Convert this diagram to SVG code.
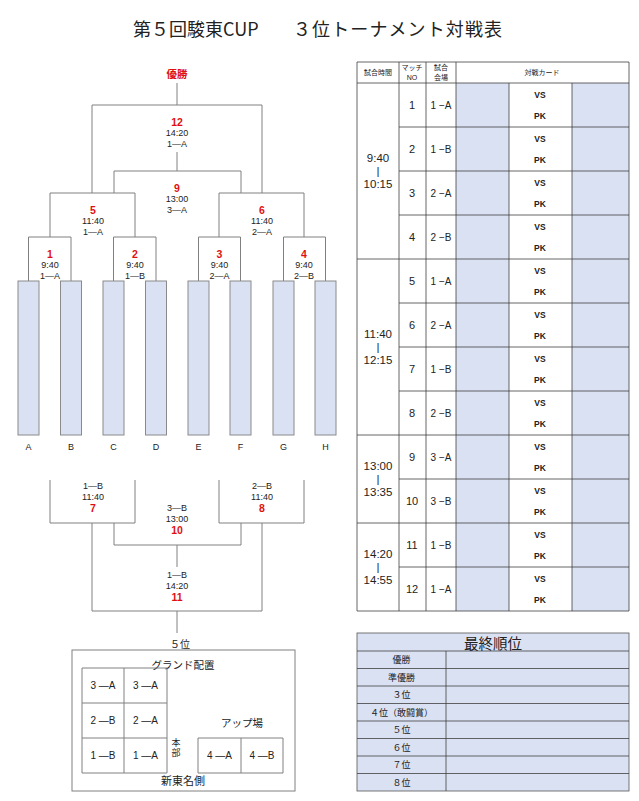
<svg xmlns="http://www.w3.org/2000/svg" width="639" height="801" viewBox="0 0 639 801">
<style>
.t{font-family:"Liberation Sans","Noto Sans CJK JP",sans-serif;font-size:9px;fill:#222;text-anchor:middle;dominant-baseline:central}
.j{font-family:"Noto Sans CJK JP","Noto Sans",sans-serif}
.r{fill:#e01010;font-weight:bold;font-size:10.5px}
.ln{stroke:#808080;stroke-width:1;fill:none}
.bar{fill:#D9E1F2;stroke:#8a8a8a;stroke-width:1}
.tb{stroke:#404040;stroke-width:0.8;fill:none}
.bl{fill:#D9E1F2}
.vs{font-weight:bold;font-size:8.5px}
.n{font-size:11px}
.v{font-size:10px}
.tm{font-size:11.5px}
.h{font-size:7px}
.g{font-size:10px}
</style>
<rect width="639" height="801" fill="#fff"/>
<g id="title">
<text class="t j" x="133" y="28" style="font-size:18px;text-anchor:start">第５回駿東CUP</text>
<text class="t j" x="293" y="28" textLength="209" style="font-size:18px;text-anchor:start">３位トーナメント対戦表</text>
</g>
<g id="connectors">
<path class="ln" d="M177 83V105M92 105H262M92 105V193M262 105V193M177 152V171M114 171H241M114 171V193M241 171V193"/>
<path class="ln" d="M50 193H135M50 193V237M135 193V237M219 193H304M219 193V237M304 193V237"/>
<path class="ln" d="M28.5 237H71M28.5 237V281M71 237V281M113.5 237H156M113.5 237V281M156 237V281M198.5 237H240.5M198.5 237V281M240.5 237V281M283.5 237H325.5M283.5 237V281M325.5 237V281"/>
<path class="ln" d="M50 480V523H135V480M219 480V523H304V480M92 523V611M262 523V611M92 611H262M114 523V545H241V523M177 545V567M177 611V633"/>
</g>
<g id="champion"><text class="t j r" x="177" y="73">優勝</text></g>
<g id="m12"><text class="t r" x="177" y="122">12</text><text class="t" x="177" y="133">14:20</text><text class="t" x="177" y="144">1—A</text></g>
<g id="m9"><text class="t r" x="177" y="188">9</text><text class="t" x="177" y="199">13:00</text><text class="t" x="177" y="210">3—A</text></g>
<g id="m5"><text class="t r" x="93" y="210">5</text><text class="t" x="93" y="221">11:40</text><text class="t" x="93" y="232">1—A</text></g>
<g id="m6"><text class="t r" x="262" y="210">6</text><text class="t" x="262" y="221">11:40</text><text class="t" x="262" y="232">2—A</text></g>
<g id="m1"><text class="t r" x="50" y="254">1</text><text class="t" x="50" y="265">9:40</text><text class="t" x="50" y="276">1—A</text></g>
<g id="m2"><text class="t r" x="135" y="254">2</text><text class="t" x="135" y="265">9:40</text><text class="t" x="135" y="276">1—B</text></g>
<g id="m3"><text class="t r" x="219.5" y="254">3</text><text class="t" x="219.5" y="265">9:40</text><text class="t" x="219.5" y="276">2—A</text></g>
<g id="m4"><text class="t r" x="304" y="254">4</text><text class="t" x="304" y="265">9:40</text><text class="t" x="304" y="276">2—B</text></g>
<g id="teamA"><rect class="bar" x="18" y="281" width="21" height="154"/><text class="t" x="28.5" y="447">A</text></g>
<g id="teamB"><rect class="bar" x="60.5" y="281" width="21" height="154"/><text class="t" x="71" y="447">B</text></g>
<g id="teamC"><rect class="bar" x="103" y="281" width="21" height="154"/><text class="t" x="113.5" y="447">C</text></g>
<g id="teamD"><rect class="bar" x="145.5" y="281" width="21" height="154"/><text class="t" x="156" y="447">D</text></g>
<g id="teamE"><rect class="bar" x="188" y="281" width="21" height="154"/><text class="t" x="198.5" y="447">E</text></g>
<g id="teamF"><rect class="bar" x="230" y="281" width="21" height="154"/><text class="t" x="240.5" y="447">F</text></g>
<g id="teamG"><rect class="bar" x="273" y="281" width="21" height="154"/><text class="t" x="283.5" y="447">G</text></g>
<g id="teamH"><rect class="bar" x="315" y="281" width="21" height="154"/><text class="t" x="325.5" y="447">H</text></g>
<g id="m7"><text class="t" x="93" y="486">1—B</text><text class="t" x="93" y="497">11:40</text><text class="t r" x="93" y="508">7</text></g>
<g id="m8"><text class="t" x="262" y="486">2—B</text><text class="t" x="262" y="497">11:40</text><text class="t r" x="262" y="508">8</text></g>
<g id="m10"><text class="t" x="177" y="508">3—B</text><text class="t" x="177" y="519">13:00</text><text class="t r" x="177" y="530">10</text></g>
<g id="m11"><text class="t" x="177" y="575">1—B</text><text class="t" x="177" y="586">14:20</text><text class="t r" x="177" y="597">11</text></g>
<g id="fifth"><text class="t j" x="180" y="643" style="font-size:10px">５位</text></g>
<g id="ground">
<rect x="72" y="650" width="223" height="141" fill="none" stroke="#808080"/>
<text class="t j" x="183" y="664" style="font-size:10.5px">グランド配置</text>
<path class="ln" d="M82 668H167V773H82ZM124 668V773M82 703H167M82 738H167M198 738H283V773H198ZM241 738V773"/>
<text class="t g" x="103" y="685.5">3 —A</text><text class="t g" x="145.5" y="685.5">3 —A</text>
<text class="t g" x="103" y="720.5">2 —B</text><text class="t g" x="145.5" y="720.5">2 —A</text>
<text class="t g" x="103" y="755.5">1 —B</text><text class="t g" x="145.5" y="755.5">1 —A</text>
<text class="t j" x="176" y="748" writing-mode="tb" style="font-size:9px;letter-spacing:1px">本部</text>
<text class="t j" x="242" y="722" style="font-size:10.5px">アップ場</text>
<text class="t g" x="219.5" y="755.5">4 —A</text><text class="t g" x="262" y="755.5">4 —B</text>
<text class="t j" x="183" y="780" style="font-size:11px">新東名側</text>
</g>
<g id="schedule">
<rect class="bl" x="456" y="83" width="53" height="528"/>
<rect class="bl" x="572" y="83" width="57" height="528"/>
<path class="tb" d="M357 62H629V611H357ZM399 62V611M426 62V611M456 62V611M509 83V611M572 83V611M357 83H629M399 127H629M399 171H629M399 215H629M357 259H629M399 303H629M399 347H629M399 391H629M357 435H629M399 479H629M357 523H629M399 567H629"/>
<text class="t j h" x="378" y="72">試合時間</text>
<text class="t j h" x="412" y="67">マッチ</text><text class="t h" x="412" y="77">NO</text>
<text class="t j h" x="441" y="67">試合</text><text class="t j h" x="441" y="77" style="dominant-baseline:auto" dy="2.5">会場</text>
<text class="t j h" x="542" y="72">対戦カード</text>
<text class="t tm" x="378" y="158">9:40</text><text class="t tm" x="378" y="171">|</text><text class="t tm" x="378" y="184">10:15</text>
<text class="t tm" x="378" y="334">11:40</text><text class="t tm" x="378" y="347">|</text><text class="t tm" x="378" y="360">12:15</text>
<text class="t tm" x="378" y="466">13:00</text><text class="t tm" x="378" y="479">|</text><text class="t tm" x="378" y="492">13:35</text>
<text class="t tm" x="378" y="554">14:20</text><text class="t tm" x="378" y="567">|</text><text class="t tm" x="378" y="580">14:55</text>
<g id="r1"><text class="t n" x="412" y="105">1</text><text class="t v" x="441" y="105">1 −A</text><text class="t vs" x="540" y="95">VS</text><text class="t vs" x="540" y="116">PK</text></g>
<g id="r2"><text class="t n" x="412" y="149">2</text><text class="t v" x="441" y="149">1 −B</text><text class="t vs" x="540" y="139">VS</text><text class="t vs" x="540" y="160">PK</text></g>
<g id="r3"><text class="t n" x="412" y="193">3</text><text class="t v" x="441" y="193">2 −A</text><text class="t vs" x="540" y="183">VS</text><text class="t vs" x="540" y="204">PK</text></g>
<g id="r4"><text class="t n" x="412" y="237">4</text><text class="t v" x="441" y="237">2 −B</text><text class="t vs" x="540" y="227">VS</text><text class="t vs" x="540" y="248">PK</text></g>
<g id="r5"><text class="t n" x="412" y="281">5</text><text class="t v" x="441" y="281">1 −A</text><text class="t vs" x="540" y="271">VS</text><text class="t vs" x="540" y="292">PK</text></g>
<g id="r6"><text class="t n" x="412" y="325">6</text><text class="t v" x="441" y="325">2 −A</text><text class="t vs" x="540" y="315">VS</text><text class="t vs" x="540" y="336">PK</text></g>
<g id="r7"><text class="t n" x="412" y="369">7</text><text class="t v" x="441" y="369">1 −B</text><text class="t vs" x="540" y="359">VS</text><text class="t vs" x="540" y="380">PK</text></g>
<g id="r8"><text class="t n" x="412" y="413">8</text><text class="t v" x="441" y="413">2 −B</text><text class="t vs" x="540" y="403">VS</text><text class="t vs" x="540" y="424">PK</text></g>
<g id="r9"><text class="t n" x="412" y="457">9</text><text class="t v" x="441" y="457">3 −A</text><text class="t vs" x="540" y="447">VS</text><text class="t vs" x="540" y="468">PK</text></g>
<g id="r10"><text class="t n" x="412" y="501">10</text><text class="t v" x="441" y="501">3 −B</text><text class="t vs" x="540" y="491">VS</text><text class="t vs" x="540" y="512">PK</text></g>
<g id="r11"><text class="t n" x="412" y="545">11</text><text class="t v" x="441" y="545">1 −B</text><text class="t vs" x="540" y="535">VS</text><text class="t vs" x="540" y="556">PK</text></g>
<g id="r12"><text class="t n" x="412" y="589">12</text><text class="t v" x="441" y="589">1 −A</text><text class="t vs" x="540" y="579">VS</text><text class="t vs" x="540" y="600">PK</text></g>
</g>
<g id="ranking">
<rect x="357" y="633" width="272" height="158" fill="#DAE1F2" stroke="#555" stroke-width="0.8"/>
<path class="tb" d="M357 651H629M357 668.5H629M357 686H629M357 703.5H629M357 721H629M357 738.5H629M357 756H629M357 773.5H629M446 651V791"/>
<text class="t j" x="493" y="642" style="font-size:14.5px">最終順位</text>
<text class="t j" x="401.5" y="659.75">優勝</text>
<text class="t j" x="401.5" y="677.25">準優勝</text>
<text class="t j" x="401.5" y="694.75">３位</text>
<text class="t j" x="401.5" y="712.25">４位（敢闘賞）</text>
<text class="t j" x="401.5" y="729.75">５位</text>
<text class="t j" x="401.5" y="747.25">６位</text>
<text class="t j" x="401.5" y="764.75">７位</text>
<text class="t j" x="401.5" y="782.25">８位</text>
</g>
</svg>
